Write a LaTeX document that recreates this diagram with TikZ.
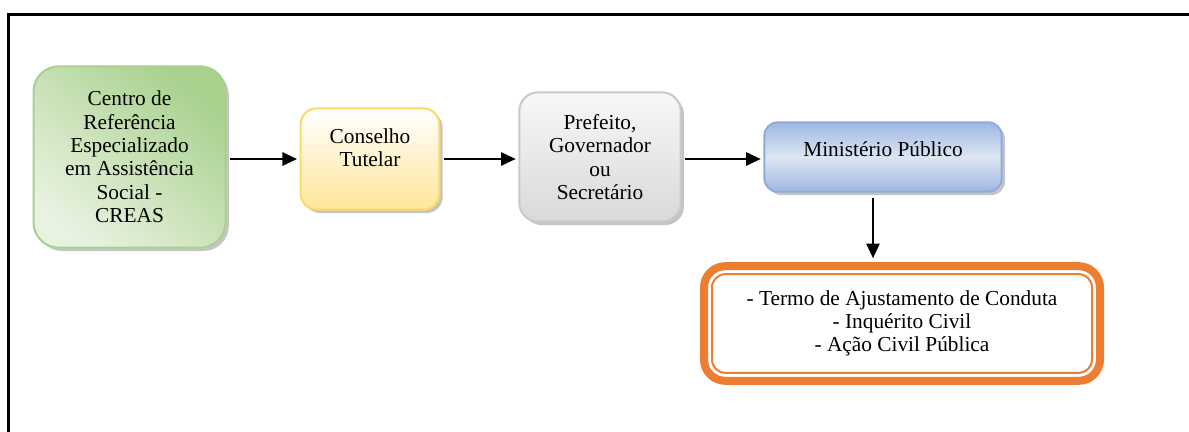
\documentclass[tikz,border=0pt]{standalone}
\usepackage{fontspec}
\setmainfont{Liberation Serif}
\usetikzlibrary{arrows.meta,shadows}

\definecolor{creasdark}{HTML}{A9D18E}
\definecolor{creaslight}{HTML}{E8F2E0}
\definecolor{tutelarline}{HTML}{FFD966}
\definecolor{tutelarfill}{HTML}{FFE699}
\definecolor{prefline}{HTML}{C9C9C9}
\definecolor{preffill}{HTML}{D9D9D9}
\definecolor{mpline}{HTML}{8FAADC}
\definecolor{mpfill}{HTML}{9FB8E2}
\definecolor{mplight}{HTML}{DCE5F4}
\definecolor{resorange}{HTML}{ED7D31}

\begin{document}
\begin{tikzpicture}[x=0.75pt, y=-0.75pt, >={Triangle[length=11pt,width=10pt]},
    box/.style={line width=1.5pt, align=center, font=\fontsize{16}{17.5}\selectfont,
        drop shadow={shadow xshift=2.5pt, shadow yshift=-2.5pt, fill=black!45}},
    arrow/.style={->, line width=1.5pt, shorten <=2.5pt, shorten >=2pt}]
    \useasboundingbox (0,0) rectangle (1189,432);

    % Frame
    \draw[line width=2.25pt] (8,432) -- (8,14) -- (1189,14);

    % Boxes
    \node[box, draw=creasdark, top color=creasdark, bottom color=creaslight, shading angle=-40,
        rounded corners=19pt, minimum width=144pt, minimum height=136pt] (creas) at (129.5,157)
        {Centro de\\Referência\\Especializado\\em Assistência\\Social -\\CREAS};
    \node[box, draw=tutelarline, top color=white, bottom color=tutelarfill,
        rounded corners=12pt, minimum width=104pt, minimum height=76pt, text depth=17pt] (tutelar) at (370,159)
        {Conselho\\Tutelar};
    \node[box, draw=prefline, top color=white!97!black, bottom color=preffill,
        rounded corners=14pt, minimum width=121pt, minimum height=97pt] (prefeito) at (600,157)
        {Prefeito,\\Governador\\ou\\Secretário};
    \node[box, draw=mpline, top color=mpfill, bottom color=mpfill, middle color=mplight,
        rounded corners=10pt, minimum width=178pt, minimum height=52pt, text depth=12pt] (mp) at (883,157)
        {Ministério Público};
    \node[draw=resorange, line width=6pt, rounded corners=16pt, fill=white, align=center,
        font=\fontsize{16}{17.25}\selectfont, minimum width=297pt, minimum height=86pt] (res) at (902,323.5)
        {- Termo de Ajustamento de Conduta\\- Inquérito Civil\\- Ação Civil Pública};
    \draw[resorange, line width=1.5pt, rounded corners=10pt]
        ([shift={(12,12)}]res.north west) rectangle ([shift={(-12,-12)}]res.south east);

    % Arrows
    \draw[arrow] (creas.east |- tutelar.west) -- (tutelar.west);
    \draw[arrow] (tutelar.east) -- (prefeito.west |- tutelar.east);
    \draw[arrow] (prefeito.east |- tutelar.east) -- (mp.west |- tutelar.east);
    \draw[arrow, shorten <=4pt, shorten >=3pt] (mp.south -| 873,0) -- (res.north -| 873,0);
\end{tikzpicture}
\end{document}
